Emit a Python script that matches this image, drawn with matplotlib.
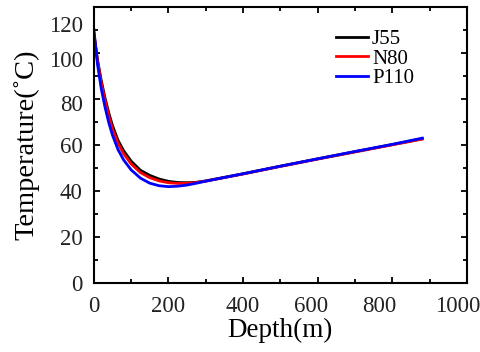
"""Temperature vs depth for three casing grades (J55, N80, P110)."""
import matplotlib
matplotlib.use("Agg")
import matplotlib.pyplot as plt
from matplotlib.ticker import MultipleLocator
from matplotlib.transforms import ScaledTranslation

plt.rcParams["font.family"] = ["Liberation Serif", "DejaVu Serif"]

# depth (m) and temperature (deg C)
depth = [0, 10, 20, 30, 40, 50, 65, 80, 100, 125, 150, 175, 200, 225, 250,
         275, 300, 400, 500, 600, 700, 800, 880]
temp_j55 = [108.5, 97.0, 88.0, 80.5, 74.0, 68.5, 62.0, 57.5, 53.0, 49.0, 46.8,
            45.2, 44.2, 43.7, 43.6, 43.8, 44.4, 47.5, 50.8, 54.0, 57.1, 60.2, 62.7]
temp_n80 = [109.0, 96.5, 87.0, 79.5, 72.8, 67.0, 60.8, 56.2, 51.8, 48.0, 45.8,
            44.4, 43.6, 43.3, 43.4, 43.7, 44.3, 47.4, 50.7, 53.9, 57.0, 60.1, 62.6]
temp_p110 = [110.5, 95.0, 84.5, 76.5, 69.8, 64.3, 58.0, 53.5, 49.2, 45.6, 43.4,
             42.3, 41.9, 42.1, 42.6, 43.4, 44.3, 47.5, 50.8, 54.0, 57.2, 60.3, 63.0]

series = [("J55", temp_j55, "black"),
          ("N80", temp_n80, "#ff0000"),
          ("P110", temp_p110, "#0000ff")]

# the source figure's tick labels drift off their ticks a little (pixels)
X_LABEL_SHIFT = {"600": -7, "800": -13, "1000": -9}
Y_LABEL_SHIFT = {"80": -4, "100": -6, "120": -17}

fig = plt.figure(figsize=(4.81, 3.52), dpi=100)
ax = fig.add_axes([0.195, 0.196, 0.776, 0.784])

for name, t, col in series:
    ax.plot(depth, t, color=col, lw=2.0, label=name)

ax.set_xlim(0, 1000)
ax.set_ylim(0, 120)
ax.xaxis.set_major_locator(MultipleLocator(200))
ax.xaxis.set_minor_locator(MultipleLocator(100))
ax.yaxis.set_major_locator(MultipleLocator(20))
ax.yaxis.set_minor_locator(MultipleLocator(10))
ax.tick_params(which="both", direction="in", top=True, right=True,
               width=1.3, labelsize=16.5, labelcolor="#222222")
ax.tick_params(axis="x", which="major", pad=9)
ax.tick_params(axis="y", which="major", pad=8)
ax.tick_params(which="major", length=4.5)
ax.tick_params(which="minor", length=3)
for s in ax.spines.values():
    s.set_linewidth(1.5)

fig.canvas.draw()
for lbl in ax.get_xticklabels():
    dx = X_LABEL_SHIFT.get(lbl.get_text())
    if dx:
        lbl.set_transform(lbl.get_transform() + ScaledTranslation(dx / 100, 0, fig.dpi_scale_trans))
for lbl in ax.get_yticklabels():
    dy = Y_LABEL_SHIFT.get(lbl.get_text())
    if dy:
        lbl.set_transform(lbl.get_transform() + ScaledTranslation(0, dy / 100, fig.dpi_scale_trans))

ax.set_xlabel("Depth(m)", fontsize=19.5, labelpad=1)
ax.set_ylabel("Temperature(\u02daC)", fontsize=20.5, labelpad=7)

ax.legend(loc="upper right", bbox_to_anchor=(0.897, 0.972), frameon=False,
          fontsize=15, handlelength=1.55, handletextpad=0.2, labelspacing=0.0,
          borderaxespad=0.3)

fig.savefig("out.png", dpi=100)
